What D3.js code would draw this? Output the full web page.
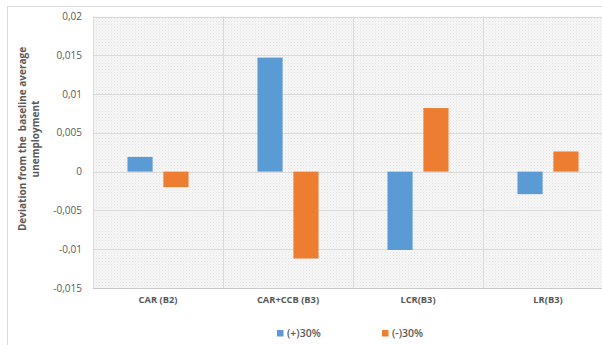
<!DOCTYPE html>
<html>
<head>
<meta charset="utf-8">
<script src="https://cdn.jsdelivr.net/npm/d3@7"></script>
<style>
  html, body { margin: 0; padding: 0; background: #ffffff; }
  svg { display: block; }
</style>
</head>
<body>
<svg id="chart" width="602" height="345"></svg>
<script>
// Category labels along the x axis
const categories = ["CAR (B2)", "CAR+CCB (B3)", "LCR(B3)", "LR(B3)"];
// Series names and values (deviation from baseline average unemployment)
const seriesNames = ["(+)30%", "(-)30%"];
const plusValues  = [0.0019, 0.0147, -0.0101, -0.0029];
const minusValues = [-0.0020, -0.0112, 0.0082, 0.0026];
// Y axis tick values and their labels
const yTicks = [0.02, 0.015, 0.01, 0.005, 0, -0.005, -0.01, -0.015];
const yTickLabels = ["0,02", "0,015", "0,01", "0,005", "0", "-0,005", "-0,01", "-0,015"];
const seriesColors = ["#5b9bd5", "#ed7d31"];

const svg = d3.select("#chart");
const plot = { left: 93, top: 16.5, right: 613, bottom: 288 };

// outer chart frame (partly outside the visible area)
svg.append("rect")
  .attr("x", 7.5).attr("y", 6.5)
  .attr("width", 640).attr("height", 400)
  .attr("fill", "#fff").attr("stroke", "#d9d9d9").attr("stroke-width", 1);

// fine dotted texture of the plot area
const defs = svg.append("defs");
const pat = defs.append("pattern")
  .attr("id", "dots").attr("patternUnits", "userSpaceOnUse")
  .attr("width", 3).attr("height", 3);
pat.append("rect").attr("width", 3).attr("height", 3).attr("fill", "#f6f6f6");
pat.append("rect").attr("x", 0).attr("y", 0).attr("width", 1).attr("height", 1).attr("fill", "#e4e4e4");
pat.append("rect").attr("x", 1.5).attr("y", 1.5).attr("width", 1).attr("height", 1).attr("fill", "#eaeaea");

const x = d3.scaleBand()
  .domain(categories)
  .range([plot.left, plot.right])
  .paddingInner(0).paddingOuter(0);

const y = d3.scaleLinear()
  .domain([-0.015, 0.02])
  .range([plot.bottom, plot.top]);

const xInner = d3.scaleBand()
  .domain(seriesNames)
  .range([0, x.bandwidth()])
  .paddingInner(0.3)
  .paddingOuter(0.96);

svg.append("rect")
  .attr("x", plot.left).attr("y", plot.top)
  .attr("width", plot.right - plot.left).attr("height", plot.bottom - plot.top)
  .attr("fill", "url(#dots)");

// horizontal gridlines
svg.append("g")
  .selectAll("line")
  .data(yTicks)
  .join("line")
  .attr("x1", plot.left).attr("x2", plot.right)
  .attr("y1", d => Math.round(y(d)) + 0.5)
  .attr("y2", d => Math.round(y(d)) + 0.5)
  .attr("stroke", d => d === -0.015 ? "#c8c8c8" : "#dadada")
  .attr("stroke-width", 1);

// vertical separators between categories
svg.append("g")
  .selectAll("line")
  .data(categories)
  .join("line")
  .attr("x1", d => Math.round(x(d)) + 0.5)
  .attr("x2", d => Math.round(x(d)) + 0.5)
  .attr("y1", plot.top).attr("y2", plot.bottom)
  .attr("stroke", "#dadada").attr("stroke-width", 1);

// y tick labels
svg.append("g")
  .selectAll("text")
  .data(yTicks)
  .join("text")
  .attr("x", 82)
  .attr("y", d => y(d) + 3.5)
  .attr("text-anchor", "end")
  .attr("font-family", "'Open Sans', sans-serif")
  .attr("font-size", 10)
  .attr("fill", "#595959")
  .text((d, i) => yTickLabels[i]);

// bars
const rows = categories.map((c, i) => ({ cat: c, vals: [plusValues[i], minusValues[i]] }));
const groups = svg.append("g")
  .selectAll("g")
  .data(rows)
  .join("g")
  .attr("transform", d => `translate(${x(d.cat)},0)`);

groups.selectAll("rect")
  .data(d => d.vals.map((v, j) => ({ v, s: seriesNames[j], j })))
  .join("rect")
  .attr("x", d => xInner(d.s))
  .attr("width", xInner.bandwidth())
  .attr("y", d => y(Math.max(0, d.v)))
  .attr("height", d => Math.abs(y(d.v) - y(0)))
  .attr("fill", d => seriesColors[d.j]);

// category labels
svg.append("g")
  .selectAll("text")
  .data(categories)
  .join("text")
  .attr("x", d => x(d) + x.bandwidth() / 2)
  .attr("y", 303)
  .attr("text-anchor", "middle")
  .attr("font-family", "'Open Sans', sans-serif")
  .attr("font-size", 9.3)
  .attr("font-weight", "bold")
  .attr("fill", "#595959")
  .text(d => d);

// y axis title
const yTitle = svg.append("text")
  .attr("transform", "translate(29,139) rotate(-90)")
  .attr("text-anchor", "middle")
  .attr("font-family", "'Open Sans', sans-serif")
  .attr("font-size", 10)
  .attr("font-weight", "bold")
  .attr("fill", "#595959");
yTitle.append("tspan").attr("x", 0).attr("dy", -3).attr("xml:space", "preserve")
  .text("Deviation from the  baseline average");
yTitle.append("tspan").attr("x", 0).attr("dy", 13).text("unemployment");

// legend
const legendX = [277, 382];
const legend = svg.append("g")
  .selectAll("g")
  .data(seriesNames)
  .join("g")
  .attr("transform", (d, i) => `translate(${legendX[i]},330)`);
legend.append("rect")
  .attr("width", 6.5).attr("height", 6.5)
  .attr("fill", (d, i) => seriesColors[i]);
legend.append("text")
  .attr("x", 10).attr("y", 6.8)
  .attr("font-family", "'Open Sans', sans-serif")
  .attr("font-size", 10.5)
  .attr("font-weight", 600)
  .attr("fill", "#595959")
  .text(d => d);
</script>
</body>
</html>
